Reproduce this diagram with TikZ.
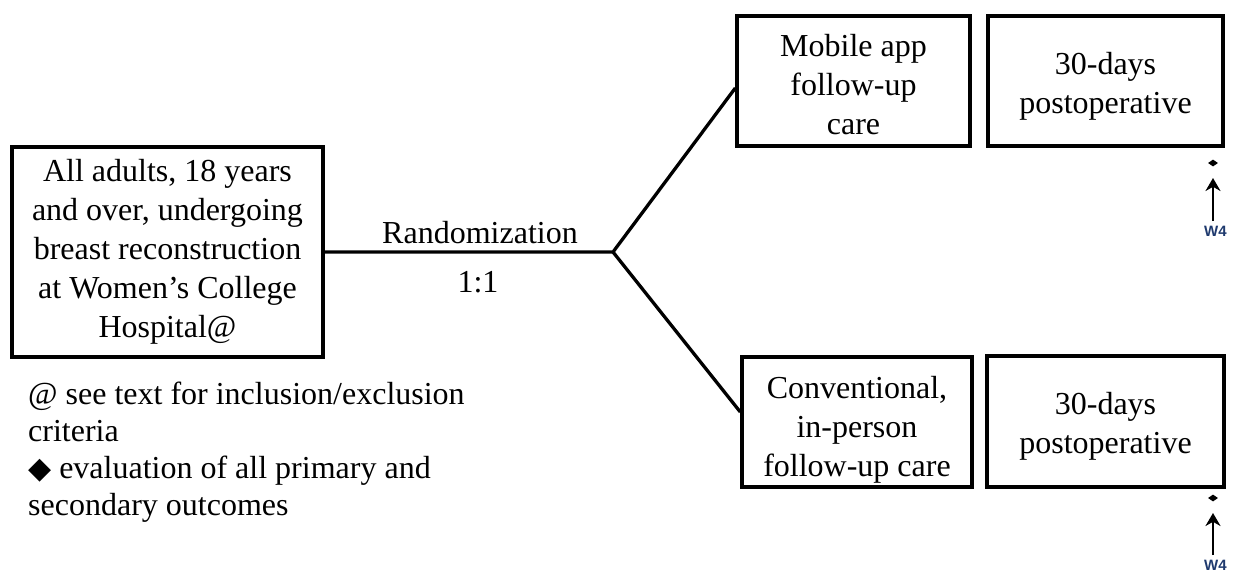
\documentclass[tikz,border=0pt]{standalone}
\usepackage{fontspec}
\setmainfont{Liberation Serif}
\setsansfont{Liberation Sans}
\newfontfamily\symfont{DejaVu Sans}
\usetikzlibrary{arrows.meta,shapes.geometric}
\definecolor{wnavy}{HTML}{1F3A6E}
\tikzset{
  boxnode/.style={draw=black, line width=3.4pt, rectangle, align=center, inner sep=0pt},
  boxtext/.style={font=\fontsize{32}{39}\selectfont, align=center, inner sep=0pt},
  conn/.style={draw=black, line width=3.3pt},
  plainlabel/.style={font=\fontsize{32}{39}\selectfont, inner sep=0pt},
  notestext/.style={font=\fontsize{32}{37}\selectfont, inner sep=0pt, align=left, anchor=north west},
  wmark/.style={diamond, fill=black, inner sep=0pt, minimum width=10pt, minimum height=7pt},
  wlabel/.style={font=\sffamily\bfseries\fontsize{15}{16}\selectfont, text=wnavy, inner sep=0pt, anchor=west},
  warrow/.style={draw=black, line width=2.6pt, -{Stealth[length=13pt,width=15pt]}}
}
\begin{document}
\begin{tikzpicture}[x=1pt,y=-1pt]
\useasboundingbox (0,0) rectangle (1237,574);
\clip (0,0) rectangle (1237,574);
% main boxes
\node[boxnode, minimum width=311pt, minimum height=210pt,
  label={[boxtext]center:All adults, 18 years\\and over, undergoing\\breast reconstruction\\at Women's College\\Hospital@}] (pop) at (167.5,252) {};
\node[boxnode, minimum width=233pt, minimum height=130pt,
  label={[boxtext, yshift=-4pt]center:Mobile app\\follow-up\\care}] (app) at (853.5,81) {};
\node[boxnode, minimum width=235pt, minimum height=130pt,
  label={[boxtext, yshift=-5pt]center:30-days\\postoperative}] (appf) at (1105.5,81) {};
\node[boxnode, minimum width=230pt, minimum height=130pt,
  label={[boxtext, yshift=-8pt]center:Conventional,\\in-person\\follow-up care}] (conv) at (857,422) {};
\node[boxnode, minimum width=237pt, minimum height=131pt,
  label={[boxtext, yshift=-5pt]center:30-days\\postoperative}] (convf) at (1105.5,421.5) {};
% randomization
\coordinate (split) at (613,252);
\draw[conn, line join=miter] ([xshift=-1.7pt]pop.east) -- (split) -- ([yshift=-7pt]app.west);
\draw[conn, line join=miter] (split) -- ([yshift=10pt]conv.west);
\node[plainlabel] (rand) at (480,233) {Randomization};
\node[plainlabel] (ratio) at (478,282) {1:1};
% notes
\node[notestext] (notes) at (28,382)
  {@ see text for inclusion/exclusion\\criteria\\{\symfont\fontsize{30}{37}\selectfont ◆} evaluation of all primary and\\secondary outcomes};
% W4 markers
\node[wmark] (d1) at (1213,163) {};
\node[wlabel] (w1) at (1204,231) {W4};
\draw[warrow] (1213,221) -- (1213,178);
\node[wmark] (d2) at (1213,498) {};
\node[wlabel] (w2) at (1204,565) {W4};
\draw[warrow] (1213,555) -- (1213,513);
\end{tikzpicture}
\end{document}
